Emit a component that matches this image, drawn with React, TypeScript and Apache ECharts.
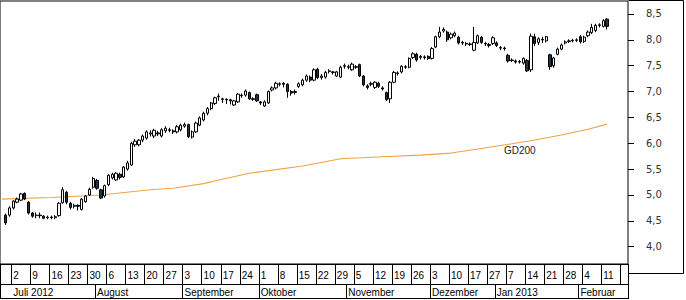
import React, { useEffect, useRef } from "react";
import * as echarts from "echarts";

// trading days shown on the category axis (month, day numbers)
const tradingDays: [string, number[]][] = [
  ["2012-06", [27, 28, 29]],
  ["2012-07", [2, 3, 4, 5, 6, 9, 10, 11, 12, 13, 16, 17, 18, 19, 20, 23, 24, 25, 26, 27, 30, 31]],
  ["2012-08", [1, 2, 3, 6, 7, 8, 9, 10, 13, 14, 15, 16, 17, 20, 21, 22, 23, 24, 27, 28, 29, 30, 31]],
  ["2012-09", [3, 4, 5, 6, 7, 10, 11, 12, 13, 14, 17, 18, 19, 20, 21, 24, 25, 26, 27, 28]],
  ["2012-10", [1, 2, 3, 4, 5, 8, 9, 10, 11, 12, 15, 16, 17, 18, 19, 22, 23, 24, 25, 26, 29, 30, 31]],
  ["2012-11", [1, 2, 5, 6, 7, 8, 9, 12, 13, 14, 15, 16, 19, 20, 21, 22, 23, 26, 27, 28, 29, 30]],
  ["2012-12", [3, 4, 5, 6, 7, 10, 11, 12, 13, 14, 17, 18, 19, 20, 21, 27, 28]],
  ["2013-01", [2, 3, 4, 7, 8, 9, 10, 11, 14, 15, 16, 17, 18, 21, 22, 23, 24, 25, 28, 29, 30, 31]],
  ["2013-02", [1, 4, 5, 6, 7, 8, 11, 12, 13, 14, 15, 18, 19]],
];

// week tick labels (first trading day of each week)
const weekTicks = [
  "2012-07-02", "2012-07-09", "2012-07-16", "2012-07-23", "2012-07-30", "2012-08-06", "2012-08-13",
  "2012-08-20", "2012-08-27", "2012-09-03", "2012-09-10", "2012-09-17", "2012-09-24", "2012-10-01",
  "2012-10-08", "2012-10-15", "2012-10-22", "2012-10-29", "2012-11-05", "2012-11-12", "2012-11-19",
  "2012-11-26", "2012-12-03", "2012-12-10", "2012-12-17", "2012-12-27", "2013-01-07", "2013-01-14",
  "2013-01-21", "2013-01-28", "2013-02-04", "2013-02-11", "2013-02-18",
];
const weekLabels = [
  "2", "9", "16", "23", "30", "6", "13", "20", "27", "3", "10", "17", "24", "1", "8", "15", "22",
  "29", "5", "12", "19", "26", "3", "10", "17", "27", "7", "14", "21", "28", "4", "11", "",
];

// month row
const monthTicks = ["2012-07-02", "2012-08-01", "2012-09-03", "2012-10-01", "2012-11-01", "2012-12-03", "2013-01-02", "2013-02-01"];
const monthLabels = ["Juli 2012", "August", "September", "Oktober", "November", "Dezember", "Jan 2013", "Februar"];
const monthHasLine = [false, true, true, true, true, true, true, true];

// y axis tick values
const yTicks = [4.0, 4.5, 5.0, 5.5, 6.0, 6.5, 7.0, 7.5, 8.0, 8.5];

// daily candles [open, close, low, high] from 2012-06-28
const ohlcStart = "2012-06-28";
const ohlc: number[][] = [
  [4.61, 4.46, 4.42, 4.64], [4.61, 4.75, 4.58, 4.78], [4.75, 4.88, 4.72, 4.90], [4.86, 4.92, 4.84, 4.95],
  [4.90, 5.02, 4.88, 5.04], [5.03, 4.92, 4.90, 5.05], [4.86, 4.65, 4.62, 4.88], [4.65, 4.59, 4.56, 4.67],
  [4.60, 4.61, 4.55, 4.66], [4.61, 4.60, 4.55, 4.66], [4.59, 4.55, 4.53, 4.61], [4.56, 4.57, 4.53, 4.60],
  [4.57, 4.56, 4.53, 4.60], [4.56, 4.58, 4.53, 4.61], [4.60, 4.84, 4.58, 4.86], [4.85, 5.10, 4.83, 5.15],
  [5.05, 4.86, 4.82, 5.08], [4.84, 4.76, 4.72, 4.87], [4.78, 4.80, 4.74, 4.83], [4.80, 4.78, 4.70, 4.82],
  [4.72, 4.92, 4.70, 4.94], [4.87, 4.98, 4.85, 5.00], [5.00, 5.11, 4.98, 5.14], [5.15, 5.32, 5.12, 5.35],
  [5.28, 5.13, 5.10, 5.31], [5.10, 4.94, 4.92, 5.12], [4.98, 5.18, 4.95, 5.20], [5.20, 5.38, 5.17, 5.40],
  [5.33, 5.40, 5.30, 5.43], [5.29, 5.42, 5.27, 5.44], [5.40, 5.34, 5.30, 5.43], [5.35, 5.54, 5.33, 5.56],
  [5.50, 5.62, 5.47, 5.66], [5.58, 6.00, 5.56, 6.03], [5.97, 6.04, 5.93, 6.08], [5.97, 6.06, 5.94, 6.08],
  [6.06, 6.14, 6.02, 6.17], [6.10, 6.22, 6.07, 6.25], [6.18, 6.20, 6.13, 6.25], [6.14, 6.25, 6.10, 6.28],
  [6.20, 6.18, 6.14, 6.24], [6.14, 6.26, 6.11, 6.29], [6.24, 6.29, 6.20, 6.33], [6.26, 6.25, 6.21, 6.30],
  [6.24, 6.22, 6.18, 6.27], [6.22, 6.32, 6.19, 6.35], [6.26, 6.35, 6.23, 6.38], [6.33, 6.36, 6.30, 6.40],
  [6.36, 6.13, 6.10, 6.38], [6.12, 6.22, 6.09, 6.25], [6.22, 6.39, 6.20, 6.42], [6.35, 6.49, 6.33, 6.52],
  [6.45, 6.58, 6.42, 6.61], [6.58, 6.67, 6.54, 6.70], [6.67, 6.78, 6.64, 6.80], [6.77, 6.88, 6.74, 6.90],
  [6.90, 6.91, 6.82, 6.96], [6.86, 6.85, 6.78, 6.88], [6.85, 6.84, 6.76, 6.87], [6.84, 6.82, 6.75, 6.86],
  [6.74, 6.82, 6.72, 6.84], [6.80, 6.95, 6.78, 6.97], [6.92, 6.93, 6.88, 6.96], [6.93, 7.01, 6.90, 7.04],
  [6.98, 6.86, 6.84, 7.00], [6.86, 6.85, 6.82, 6.89], [6.94, 6.82, 6.80, 6.96], [6.80, 6.78, 6.74, 6.82],
  [6.72, 6.80, 6.70, 6.83], [6.78, 7.00, 6.76, 7.02], [7.03, 7.07, 7.00, 7.10], [7.07, 7.16, 7.04, 7.19],
  [7.14, 7.15, 7.10, 7.18], [7.16, 7.14, 7.08, 7.18], [7.14, 7.00, 6.88, 7.16], [7.00, 6.97, 6.92, 7.03],
  [6.98, 7.00, 6.94, 7.04], [7.10, 7.15, 7.07, 7.18], [7.13, 7.22, 7.10, 7.25], [7.22, 7.30, 7.19, 7.33],
  [7.28, 7.22, 7.18, 7.31], [7.22, 7.42, 7.20, 7.45], [7.43, 7.27, 7.24, 7.46], [7.27, 7.30, 7.23, 7.34],
  [7.28, 7.37, 7.25, 7.40], [7.39, 7.40, 7.35, 7.43], [7.38, 7.37, 7.33, 7.40], [7.30, 7.38, 7.28, 7.40],
  [7.28, 7.47, 7.26, 7.50], [7.50, 7.49, 7.44, 7.54], [7.48, 7.47, 7.43, 7.52], [7.42, 7.53, 7.40, 7.56],
  [7.48, 7.47, 7.44, 7.51], [7.52, 7.30, 7.28, 7.54], [7.30, 7.13, 7.10, 7.32], [7.11, 7.08, 7.04, 7.14],
  [7.14, 7.16, 7.10, 7.19], [7.08, 7.18, 7.05, 7.20], [7.16, 7.10, 7.07, 7.19], [7.07, 7.05, 7.02, 7.10],
  [6.98, 6.84, 6.82, 7.00], [6.86, 7.18, 6.78, 7.20], [7.18, 7.37, 7.16, 7.40], [7.35, 7.36, 7.31, 7.39],
  [7.38, 7.49, 7.35, 7.51], [7.48, 7.47, 7.44, 7.51], [7.47, 7.64, 7.45, 7.66], [7.66, 7.73, 7.63, 7.76],
  [7.72, 7.61, 7.58, 7.75], [7.66, 7.68, 7.62, 7.71], [7.67, 7.66, 7.62, 7.70], [7.68, 7.64, 7.61, 7.70],
  [7.64, 7.83, 7.62, 7.86], [7.86, 8.06, 7.84, 8.08], [8.06, 8.15, 8.03, 8.25], [8.17, 8.20, 8.14, 8.24],
  [8.15, 8.00, 7.96, 8.18], [8.04, 8.11, 8.01, 8.14], [8.08, 8.13, 8.05, 8.16], [8.05, 7.94, 7.91, 8.08],
  [7.95, 7.94, 7.90, 7.98], [7.93, 7.92, 7.88, 7.96], [7.92, 7.91, 7.88, 7.95], [7.80, 7.95, 7.78, 8.25],
  [7.94, 8.08, 7.92, 8.10], [8.05, 7.95, 7.92, 8.08], [7.93, 7.92, 7.88, 7.96], [7.91, 7.89, 7.85, 7.94],
  [7.93, 8.04, 7.90, 8.07], [7.94, 7.89, 7.86, 7.97], [7.85, 7.84, 7.80, 7.88], [7.84, 7.83, 7.79, 7.87],
  [7.70, 7.59, 7.56, 7.73], [7.61, 7.60, 7.57, 7.64], [7.59, 7.57, 7.54, 7.62], [7.57, 7.58, 7.54, 7.61],
  [7.55, 7.64, 7.52, 7.66], [7.60, 7.40, 7.38, 7.63], [7.42, 8.07, 7.38, 8.12], [8.06, 7.93, 7.88, 8.12],
  [7.95, 8.02, 7.90, 8.05], [8.01, 8.00, 7.94, 8.06], [7.98, 8.06, 7.95, 8.08], [7.71, 7.48, 7.42, 7.73],
  [7.50, 7.65, 7.46, 7.67], [7.72, 7.82, 7.70, 7.85], [7.82, 7.90, 7.80, 7.93], [7.94, 7.96, 7.91, 7.99],
  [7.97, 7.98, 7.94, 8.01], [7.98, 7.99, 7.95, 8.02], [7.99, 8.00, 7.96, 8.03], [8.06, 7.96, 7.93, 8.09],
  [7.97, 8.05, 7.94, 8.08], [8.08, 8.15, 8.05, 8.18], [8.14, 8.24, 8.11, 8.31], [8.18, 8.28, 8.15, 8.31],
  [8.28, 8.29, 8.24, 8.32], [8.26, 8.37, 8.24, 8.40], [8.40, 8.26, 8.20, 8.42],
];

// 200-day average, read at selected days
const gd200Dates = [
  "2012-06-27", "2012-07-16", "2012-08-02", "2012-08-21", "2012-08-29", "2012-09-10", "2012-09-14",
  "2012-09-26", "2012-10-16", "2012-10-30", "2012-11-14", "2012-11-28", "2012-12-10", "2012-12-20",
  "2013-01-08", "2013-01-15", "2013-01-25", "2013-02-05", "2013-02-12",
];
const gd200Values = [
  4.92, 4.95, 5.0, 5.1, 5.13, 5.22, 5.29, 5.42, 5.56, 5.7, 5.74, 5.77, 5.81, 5.9, 5.99, 6.05, 6.16, 6.27, 6.37,
];

const categories: string[] = tradingDays.flatMap(([m, ds]) =>
  ds.map((d) => `${m}-${String(d).padStart(2, "0")}`)
);

export default function App() {
  const ref = useRef<HTMLDivElement>(null);
  useEffect(() => {
    if (!ref.current) return;
    const chart = echarts.init(ref.current, undefined, { renderer: "svg" });
    const startIdx = categories.indexOf(ohlcStart);
    const candleData = categories.map((_, i) => {
      const k = i - startIdx;
      return k >= 0 && k < ohlc.length ? ohlc[k] : "-";
    });
    const weekIdx = new Map<number, string>();
    weekTicks.forEach((d, j) => weekIdx.set(categories.indexOf(d), weekLabels[j]));
    const monthIdx = new Map<number, string>();
    const monthLineIdx = new Set<number>();
    monthTicks.forEach((d, j) => {
      const k = categories.indexOf(d);
      monthIdx.set(k, monthLabels[j]);
      if (monthHasLine[j]) monthLineIdx.add(k);
    });
    const gdData = gd200Dates.map((d, j) => [categories.indexOf(d), gd200Values[j]]);

    const labelFont = { fontFamily: "Liberation Sans", fontSize: 10, color: "#000" };

    chart.setOption({
      animation: false,
      backgroundColor: "#fff",
      grid: {
        left: 0,
        top: 1,
        width: 628,
        height: 263,
        show: true,
        borderColor: "#000",
        borderWidth: 1,
      },
      xAxis: [
        {
          type: "category",
          data: categories,
          boundaryGap: true,
          position: "bottom",
          axisLine: { show: true, lineStyle: { color: "#000", width: 1 } },
          axisTick: {
            show: true,
            interval: (i: number) => weekIdx.has(i),
            length: 20,
            lineStyle: { color: "#000" },
          },
          axisLabel: {
            interval: (i: number) => weekIdx.has(i),
            formatter: (_v: string, i: number) => weekIdx.get(i) ?? "",
            align: "left",
            margin: 6,
            ...labelFont,
          },
          splitLine: { show: false },
        },
        {
          type: "category",
          data: categories,
          boundaryGap: true,
          position: "bottom",
          offset: 20,
          axisLine: { show: true, lineStyle: { color: "#000", width: 1 } },
          axisTick: {
            show: true,
            interval: (i: number) => monthLineIdx.has(i),
            length: 14,
            lineStyle: { color: "#000" },
          },
          axisLabel: {
            interval: (i: number) => monthIdx.has(i),
            formatter: (_v: string, i: number) => monthIdx.get(i) ?? "",
            align: "left",
            margin: 3,
            ...labelFont,
          },
          splitLine: { show: false },
        },
      ],
      yAxis: {
        type: "value",
        position: "right",
        min: 3.665,
        max: 8.751,
        scale: true,
        splitLine: { show: false },
        axisLine: { show: false },
        axisTick: { show: true, length: 6, lineStyle: { color: "#000" }, customValues: yTicks },
        axisLabel: {
          customValues: yTicks,
          formatter: (v: number) => v.toFixed(1).replace(".", ","),
          margin: 18,
          fontFamily: "DejaVu Sans",
          fontSize: 10,
          color: "#333",
        },
      },
      series: [
        {
          type: "line",
          data: gdData,
          symbol: "none",
          z: 1,
          lineStyle: { color: "#f2a33f", width: 1.1 },
        },
        {
          type: "candlestick",
          data: candleData,
          barWidth: 2.8,
          z: 3,
          itemStyle: {
            color: "#ffffff",
            color0: "#1f3347",
            borderColor: "#000000",
            borderColor0: "#000000",
            borderWidth: 1,
          },
        },
      ],
      graphic: [
        { type: "line", shape: { x1: 628.5, y1: 0.5, x2: 683.5, y2: 0.5 }, style: { stroke: "#000", lineWidth: 1 } },
        { type: "line", shape: { x1: 683.5, y1: 0.5, x2: 683.5, y2: 273.5 }, style: { stroke: "#000", lineWidth: 1 } },
        { type: "line", shape: { x1: 628.5, y1: 273.5, x2: 683.5, y2: 273.5 }, style: { stroke: "#000", lineWidth: 1 } },
        { type: "line", shape: { x1: 0.5, y1: 264, x2: 0.5, y2: 298.5 }, style: { stroke: "#000", lineWidth: 1 } },
        { type: "line", shape: { x1: 628.5, y1: 264, x2: 628.5, y2: 298.5 }, style: { stroke: "#000", lineWidth: 1 } },
        { type: "line", shape: { x1: 0, y1: 298.5, x2: 629, y2: 298.5 }, style: { stroke: "#000", lineWidth: 1 } },
        {
          type: "text",
          x: 504,
          y: 145,
          style: { text: "GD200", fontFamily: "Liberation Sans", fontSize: 10, fill: "#222" },
        },
      ],
    });
    return () => chart.dispose();
  }, []);
  return (
    <div
      ref={ref}
      style={{ position: "fixed", left: 0, top: 0, width: 686, height: 300, background: "#fff" }}
    />
  );
}
